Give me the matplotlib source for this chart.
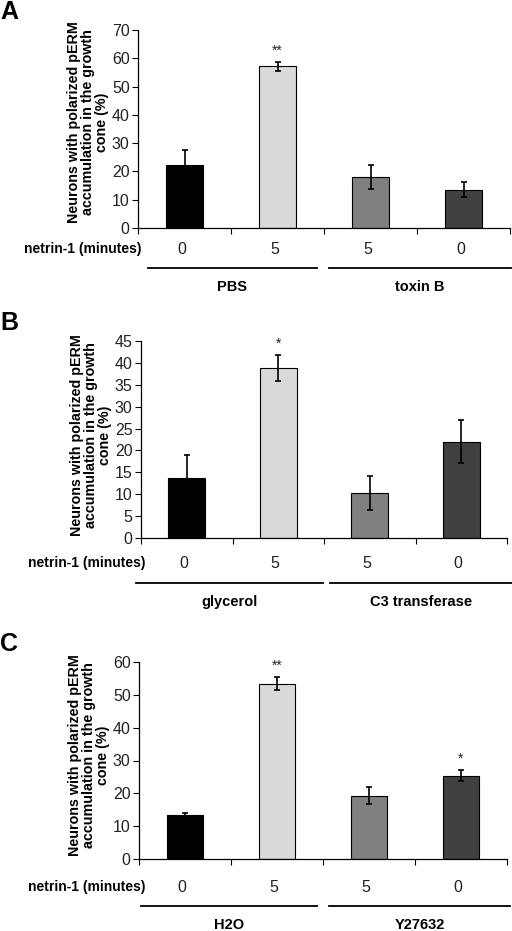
import matplotlib
matplotlib.use("Agg")
import matplotlib.pyplot as plt
import numpy as np

plt.rcParams['font.family'] = ['Liberation Sans', 'DejaVu Sans']

W, H = 512, 931

# panel data
netrin_minutes = ["0", "5", "5", "0"]
bar_colors = ["#000000", "#d9d9d9", "#808080", "#404040"]

a_values = [22.1, 57.1, 18.0, 13.6]
a_errors = [5.6, 1.5, 4.3, 2.6]
a_stars = ["", "**", "", ""]
a_groups = ["PBS", "toxin B"]

b_values = [13.7, 38.9, 10.3, 22.0]
b_errors = [5.2, 3.0, 3.8, 4.9]
b_stars = ["", "*", "", ""]
b_groups = ["glycerol", "C3 transferase"]

c_values = [13.3, 53.4, 19.3, 25.4]
c_errors = [0.7, 1.9, 2.7, 1.6]
c_stars = ["", "**", "", "*"]
c_groups = ["H2O", "Y27632"]

ylabel = "Neurons with polarized pERM\naccumulation in the growth\ncone (%)"


def fx(px):
    return px / W


def fy(py):
    return 1 - py / H


fig = plt.figure(figsize=(W / 100, H / 100), dpi=100)


def panel(letter, left, top, right, bottom, ymax, ystep, values, errors, stars,
          groups, netrin_y, line_y, group_y, line_spans, netrin_right, ylab_y):
    ax = fig.add_axes([fx(left), fy(bottom), fx(right - left), (bottom - top) / H])
    x = np.arange(len(values))
    ax.bar(x, values, width=0.4, color=bar_colors, edgecolor="black", linewidth=0.8,
           zorder=2)
    ax.errorbar(x, values, yerr=errors, fmt="none", ecolor="black", elinewidth=1.2,
                capsize=2.5, capthick=1.2, zorder=3)
    for xi, v, e, s in zip(x, values, errors, stars):
        if s:
            ax.annotate(s, (xi, v + e), xytext=(0, 3), textcoords="offset points",
                        ha="center", va="bottom", fontsize=10, color="#222222")
    ax.set_xlim(-0.5, len(values) - 0.5)
    ax.set_ylim(0, ymax)
    ax.set_yticks(np.arange(0, ymax + 0.1, ystep))
    ax.set_xticks(np.arange(-0.5, len(values), 1.0))
    ax.set_xticklabels([])
    ax.tick_params(axis="x", direction="out", length=4, width=0.8)
    ax.tick_params(axis="y", direction="out", length=4, width=0.8, labelsize=11.5,
                   pad=2, labelcolor="#222222")
    for side in ("top", "right"):
        ax.spines[side].set_visible(False)
    for side in ("left", "bottom"):
        ax.spines[side].set_linewidth(0.9)

    fig.text(fx(0), fy(top - 18), letter, fontsize=18, fontweight="bold",
             ha="left", va="center")
    fig.text(fx(left - 50), fy(ylab_y), ylabel, rotation=90, fontsize=10.3,
             fontweight="bold", ha="center", va="center", multialignment="center",
             linespacing=1.0)

    fig.text(fx(netrin_right), fy(netrin_y), "netrin-1 (minutes)", fontsize=10,
             fontweight="bold", ha="right", va="center")
    span = (right - left) / len(values)
    for i, lab in enumerate(netrin_minutes):
        fig.text(fx(left + span * (i + 0.5) - 3), fy(netrin_y), lab, fontsize=11.5,
                 ha="center", va="center", color="#222222")
    for (x0, x1), g in zip(line_spans, groups):
        fig.add_artist(plt.Line2D([fx(x0), fx(x1)], [fy(line_y), fy(line_y)],
                                  color="black", linewidth=1.3))
        fig.text(fx((x0 + x1) / 2), fy(group_y), g, fontsize=10.5,
                 fontweight="bold", ha="center", va="center")
    return ax


panel("A", 138, 30, 510, 228, 70, 10, a_values, a_errors, a_stars, a_groups,
      249, 268, 287, [(148, 317), (329, 511)], 141, 122)
panel("B", 141, 341, 507, 538, 45, 5, b_values, b_errors, b_stars, b_groups,
      563, 583, 602, [(136, 323), (330, 512)], 146, 435)
panel("C", 139, 662, 507, 859, 60, 10, c_values, c_errors, c_stars, c_groups,
      887, 906, 925, [(141, 317), (329, 510)], 146, 755)

fig.savefig("out.png", dpi=100)
